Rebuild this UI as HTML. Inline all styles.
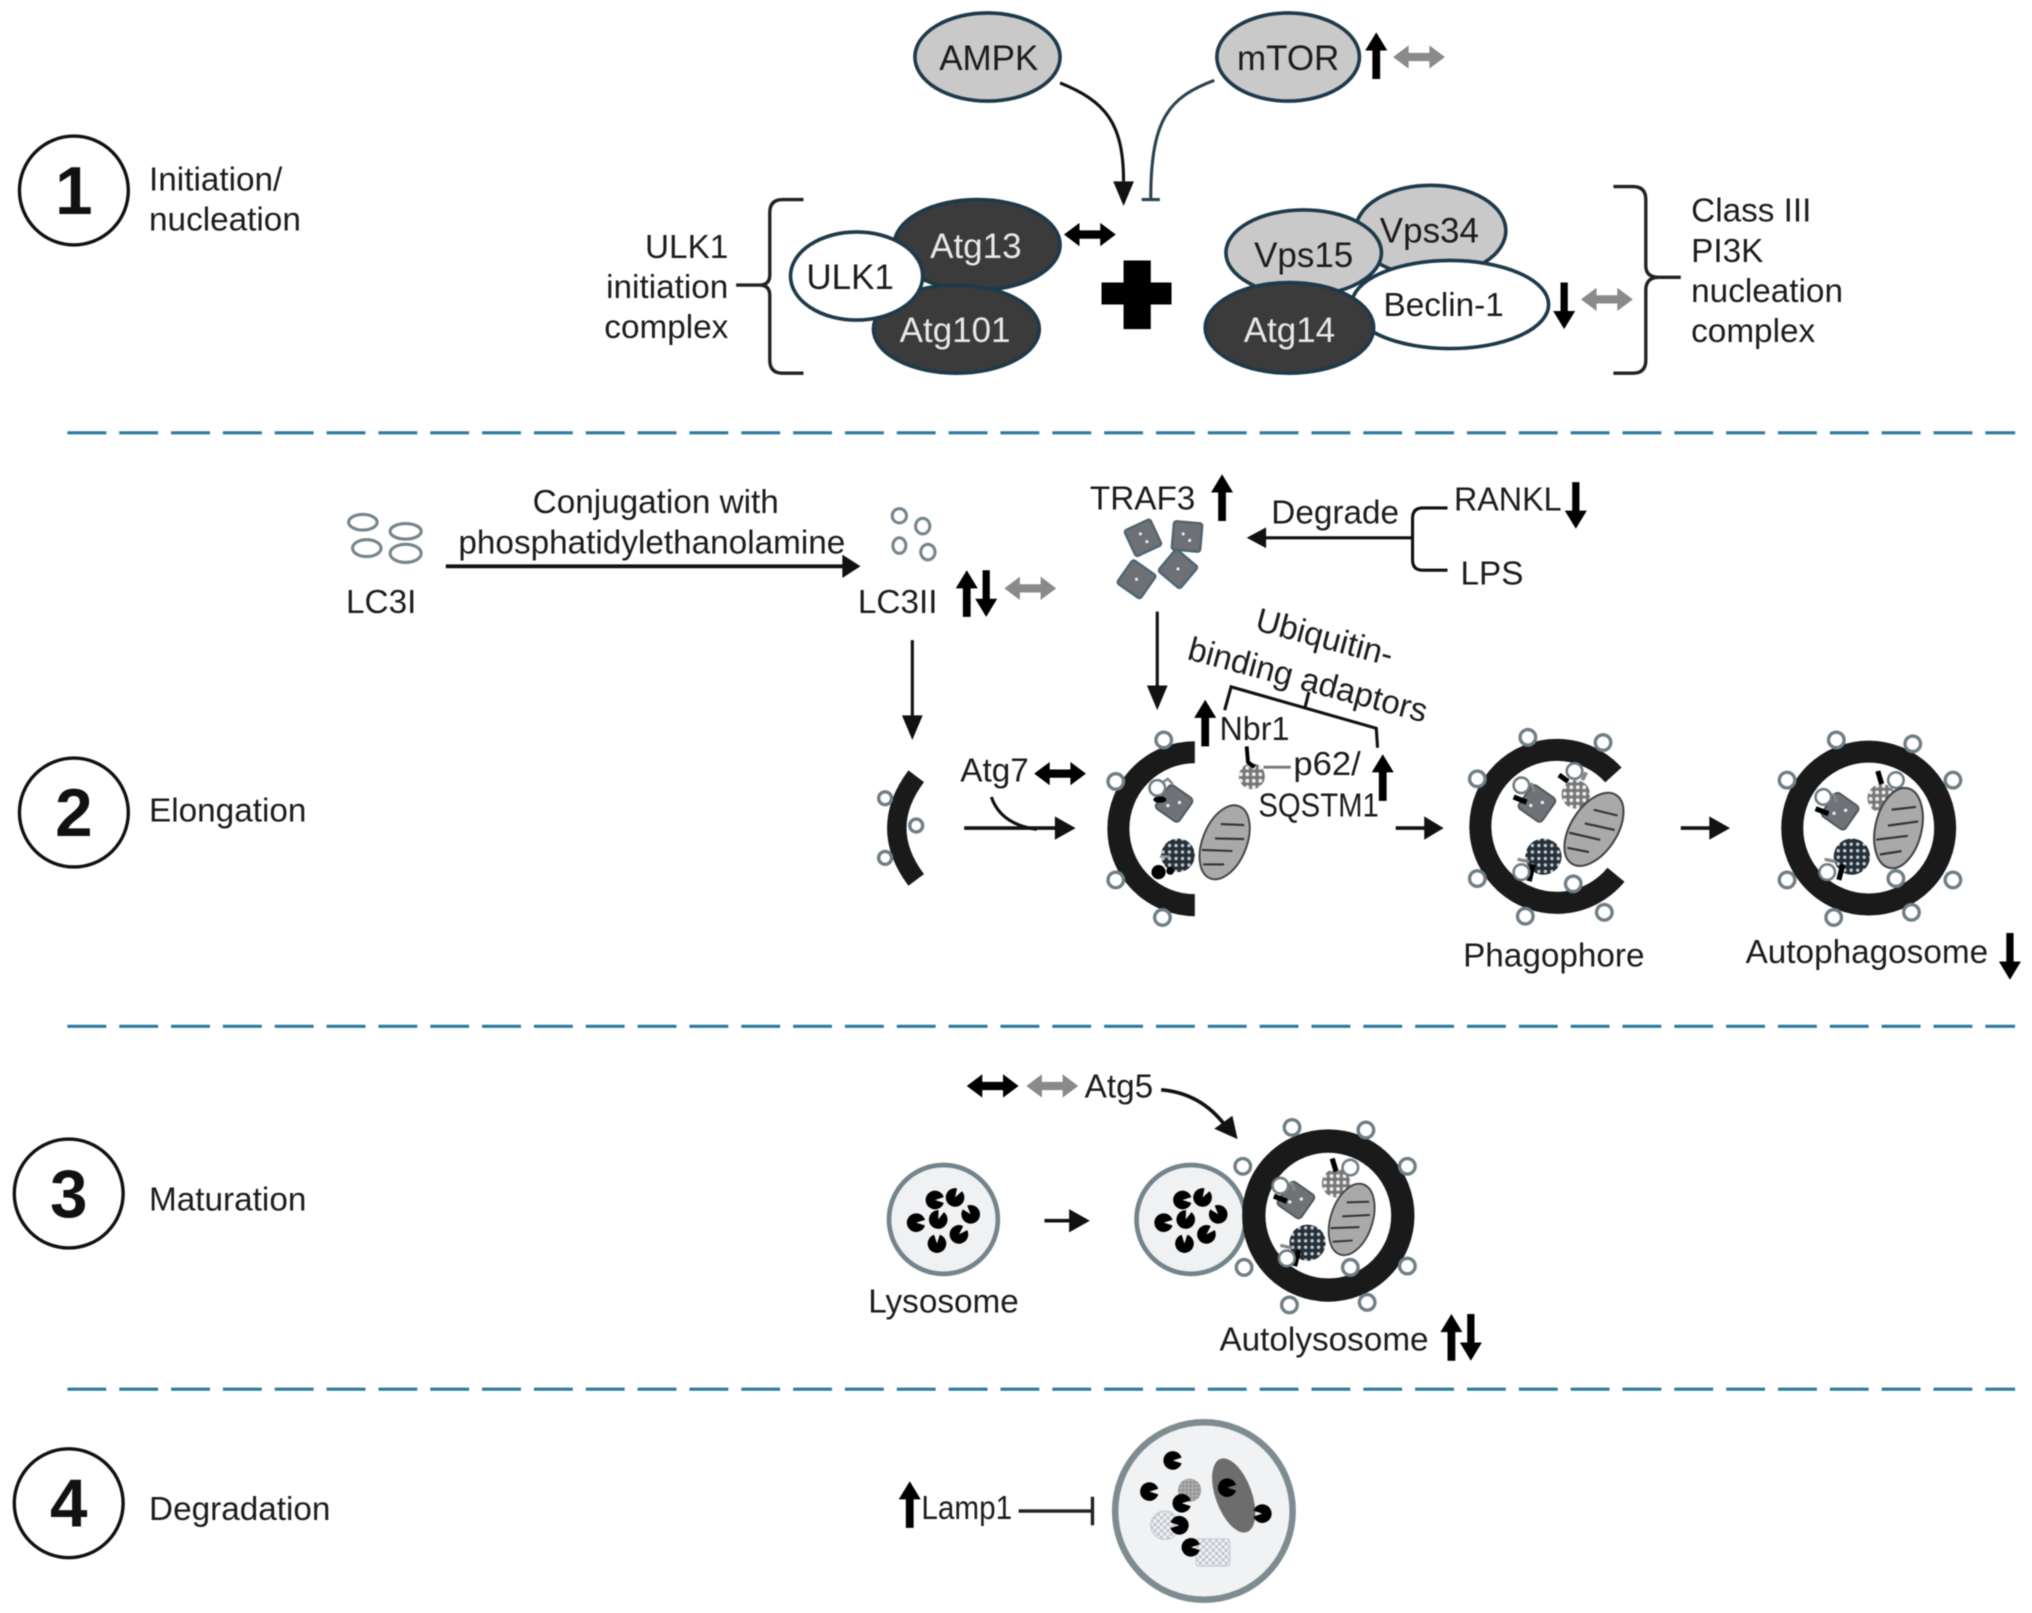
<!DOCTYPE html>
<html><head><meta charset="utf-8"><style>
html,body{margin:0;padding:0;background:#fff}
svg{display:block;filter:blur(0.6px)}
text{font-family:"Liberation Sans",sans-serif;font-size:25.7px;fill:#1c1c1c}
.c{text-anchor:middle}
.n{font-size:27px;text-anchor:middle}
.w{fill:#e8e8e8}
.num{font-size:52px;font-weight:bold;text-anchor:middle;fill:#111}
.l{fill:none;stroke:#111;stroke-width:2.4}
.s{fill:#fff;stroke:#6f7f86;stroke-width:2.6}
</style></head><body>
<svg xmlns="http://www.w3.org/2000/svg" width="2032" height="1613" viewBox="0 0 1568 1244.7">
<defs>
<path id="up" d="M-3,18V-4H-8.500L0,-18L8.500,-4H3V18Z"/>
<path id="dn" d="M-2.800,-18V4H-8.500L0,18L8.500,4H2.800V-18Z"/>
<path id="dbl" d="M-20,0L-8,-9V-3.200H8V-9L20,0L8,9V3.200H-8V9Z"/>
<path id="pac" d="M0,0L6.800,-2.200A7.200,7.200 0 1 0 6.800,2.200Z"/>
<pattern id="dd" width="5" height="5" patternUnits="userSpaceOnUse"><rect width="5" height="5" fill="#24303a"/><circle cx="2.5" cy="2.5" r="1.3" fill="#c8ccd0"/></pattern>
<pattern id="dl" width="5" height="5" patternUnits="userSpaceOnUse"><rect width="5" height="5" fill="#777"/><circle cx="2.5" cy="2.5" r="1.5" fill="#eee"/></pattern>
<pattern id="ch" width="5" height="5" patternUnits="userSpaceOnUse"><rect width="5" height="5" fill="#f2f4f6"/><rect width="2.5" height="2.5" fill="#c0c6cc"/><rect x="2.5" y="2.5" width="2.5" height="2.5" fill="#c0c6cc"/></pattern>
<pattern id="gh" width="3" height="3" patternUnits="userSpaceOnUse"><rect width="3" height="3" fill="#aaa"/><rect width="1.5" height="1.5" fill="#888"/></pattern>
<g id="sq"><rect x="-11" y="-11" width="22" height="22" rx="3" fill="#6f7377" stroke="#50585e" stroke-width="1.5"/><circle cx="3" cy="-3" r="1.3" fill="#eee"/><circle cx="-3" cy="4" r="1.3" fill="#eee"/></g>
<g id="mito"><ellipse rx="17" ry="30" fill="#a9a9a9" stroke="#444" stroke-width="1.5"/><path d="M-8,-12L9,-18M-8,0L13,-8M-14,12L8,4M-9,22L6,16" stroke="#333" stroke-width="1.6" fill="none"/></g>
<g id="lyso"><circle r="42" fill="#f0f1f3" stroke="#74848c" stroke-width="3.6"/>
<use href="#pac" x="-6.5" y="-15"/><use href="#pac" transform="translate(9,-17) rotate(-60)"/><use href="#pac" transform="translate(21,-4) rotate(-130)"/><use href="#pac" x="-21" y="2.5"/><use href="#pac" transform="translate(-4,0) rotate(-70)"/><use href="#pac" transform="translate(12,11.5) rotate(-45)"/><use href="#pac" transform="translate(-5,18.6) rotate(-90)"/></g>
</defs>
<rect width="1568" height="1244.7" fill="#fff"/>

<!-- dividers -->
<g stroke="#2d7ba0" stroke-width="2.4" stroke-dasharray="30 10" fill="none">
<path d="M52,334H1555M52,792H1555M52,1072H1555"/>
</g>

<!-- stage badges -->
<g fill="#fff" stroke="#111" stroke-width="2.6">
<circle cx="57" cy="147" r="42"/><circle cx="57" cy="627" r="42"/><circle cx="53" cy="921" r="42"/><circle cx="53" cy="1160" r="42"/>
</g>
<text class="num" x="57" y="165">1</text><text class="num" x="57" y="645">2</text><text class="num" x="53" y="939">3</text><text class="num" x="53" y="1178">4</text>
<text x="115" y="147">Initiation/</text><text x="115" y="178">nucleation</text>
<text x="115" y="634">Elongation</text><text x="115" y="934">Maturation</text><text x="115" y="1173">Degradation</text>

<!-- top -->
<g stroke="#1e3a4a" stroke-width="2.8">
<ellipse cx="762" cy="44" rx="56" ry="34" fill="#c9c9c9"/>
<ellipse cx="994" cy="44" rx="55" ry="34" fill="#c9c9c9"/>
<ellipse cx="754" cy="189" rx="64" ry="35" fill="#3b3b3b"/>
<ellipse cx="738" cy="254" rx="64" ry="34" fill="#3b3b3b"/>
<ellipse cx="661" cy="213" rx="51" ry="34" fill="#fff"/>
<ellipse cx="1104" cy="178" rx="58" ry="35" fill="#c9c9c9"/>
<ellipse cx="1006" cy="195" rx="60" ry="33" fill="#c9c9c9"/>
<ellipse cx="1119" cy="235" rx="76" ry="34" fill="#fff"/>
<ellipse cx="995" cy="253" rx="65" ry="35" fill="#3b3b3b"/>
</g>
<text class="n" x="763" y="54">AMPK</text><text class="n" x="994" y="54">mTOR</text>
<text class="n w" x="753" y="199">Atg13</text><text class="n w" x="737" y="264">Atg101</text>
<text class="n" x="656" y="223">ULK1</text><text class="n" x="1103" y="187">Vps34</text>
<text class="n" x="1006" y="206">Vps15</text><text class="c" x="1114" y="244">Beclin-1</text>
<text class="n w" x="995" y="264">Atg14</text>

<path class="l" d="M818,64C853,78 867,95 867,140"/><path d="M859,140H875L867,159Z" fill="#111"/>
<path d="M937,62C903,75 888,90 888,153M881,154H895" fill="none" stroke="#2b4350" stroke-width="2.4"/>
<use href="#up" transform="translate(1062,43)" fill="#000"/>
<use href="#dbl" transform="translate(1095,44)" fill="#8a8a8a"/>
<use href="#dbl" transform="translate(841,181)" fill="#000"/>
<use href="#dn" transform="translate(1207,236)" fill="#000"/>
<use href="#dbl" transform="translate(1240,231)" fill="#8a8a8a"/>
<path d="M867,201H888V218H904V235H888V254H867V235H850V218H867Z" fill="#000"/>

<path d="M620,154H604Q594,154 594,164V212Q594,220 586,220H568M586,220Q594,220 594,228V278Q594,288 604,288H620" fill="none" stroke="#222" stroke-width="2.6"/>
<path d="M1245,144H1260Q1270,144 1270,154V205Q1270,214 1280,214H1297M1280,214Q1270,214 1270,224V278Q1270,288 1260,288H1245" fill="none" stroke="#222" stroke-width="2.6"/>
<g text-anchor="end"><text x="562" y="199">ULK1</text><text x="562" y="230">initiation</text><text x="562" y="261">complex</text></g>
<text x="1305" y="171">Class III</text><text x="1305" y="202">PI3K</text><text x="1305" y="233">nucleation</text><text x="1305" y="264">complex</text>

<!-- LC3 -->
<g fill="none" stroke="#75868c" stroke-width="2.4">
<ellipse cx="280" cy="403" rx="11" ry="6"/><ellipse cx="313" cy="410" rx="12" ry="6"/><ellipse cx="283" cy="423" rx="11" ry="6.5"/><ellipse cx="313" cy="427" rx="12" ry="7"/>
<ellipse cx="694" cy="398" rx="5.5" ry="5.5"/><ellipse cx="712" cy="406" rx="5.5" ry="6"/><ellipse cx="694" cy="421" rx="5" ry="6"/><ellipse cx="716" cy="426" rx="5.5" ry="6"/>
</g>
<text x="267" y="473">LC3I</text><text class="c" x="506" y="396">Conjugation with</text><text class="c" x="503" y="427">phosphatidylethanolamine</text>
<path d="M344,437H652" stroke="#111" stroke-width="3"/><path d="M650,428V446L664,437Z" fill="#111"/>
<text x="662" y="473">LC3II</text>
<use href="#up" transform="translate(746,458)" fill="#000"/><use href="#dn" transform="translate(761,458)" fill="#000"/>
<use href="#dbl" transform="translate(795,454)" fill="#8a8a8a"/>

<!-- TRAF3 -->
<text x="841" y="393">TRAF3</text><use href="#up" transform="translate(943,384)" fill="#000"/>
<g stroke="#4e6472" stroke-width="1.8" fill="#6d7175">
<rect x="-11" y="-11" width="22" height="22" rx="2" transform="translate(882,415) rotate(-25)"/>
<rect x="-11" y="-11" width="22" height="22" rx="2" transform="translate(916,414) rotate(5)"/>
<rect x="-11" y="-11" width="22" height="22" rx="2" transform="translate(877,447) rotate(35)"/>
<rect x="-11" y="-11" width="22" height="22" rx="2" transform="translate(909,439) rotate(40)"/>
</g>
<g fill="#eee"><circle cx="880" cy="412" r="1.2"/><circle cx="885" cy="418" r="1.2"/><circle cx="913" cy="412" r="1.2"/><circle cx="918" cy="417" r="1.2"/><circle cx="877" cy="447" r="1.2"/><circle cx="909" cy="439" r="1.2"/></g>
<text x="981" y="404">Degrade</text><text x="1122" y="394" textLength="83" lengthAdjust="spacingAndGlyphs">RANKL</text><text x="1127" y="451">LPS</text>
<use href="#dn" transform="translate(1216,390)" fill="#000"/>
<path class="l" d="M1117,392H1098Q1090,392 1090,400V432Q1090,440 1098,440H1117M1090,415H975"/><path d="M977,407V423L962,415Z" fill="#111"/>
<path class="l" d="M893,472V530"/><path d="M885,529H901L893,548Z" fill="#111"/>
<path class="l" d="M704,494V553"/><path d="M696,552H712L704,571Z" fill="#111"/>

<!-- ubiquitin -->
<text class="c" transform="translate(1020,500) rotate(15)">Ubiquitin-</text>
<text class="c" transform="translate(1007,533) rotate(15)">binding adaptors</text>
<path class="l" d="M945,548L950,530L1062,562L1063,577M1007,546L1010,534"/>
<use href="#up" transform="translate(930,558)" fill="#000"/>
<text x="941" y="571" textLength="54" lengthAdjust="spacingAndGlyphs">Nbr1</text><text x="998" y="598" textLength="52" lengthAdjust="spacingAndGlyphs">p62/</text><text x="971" y="630" textLength="93" lengthAdjust="spacingAndGlyphs">SQSTM1</text>
<use href="#up" transform="translate(1067,600)" fill="#000"/>
<circle cx="966" cy="599" r="10" fill="url(#dl)"/>
<path d="M962,576L963,588L968,592" stroke="#000" stroke-width="3" fill="none"/>
<path d="M975,592H996" stroke="#777" stroke-width="2.2"/>

<!-- crescent -->
<path d="M707,599Q677,639 707,679" fill="none" stroke="#1a1a1a" stroke-width="15"/>
<circle class="s" cx="683" cy="616" r="5"/><circle class="s" cx="707" cy="637" r="5"/><circle class="s" cx="683" cy="662" r="5"/>
<text x="741" y="603">Atg7</text><use href="#dbl" transform="translate(818,597)" fill="#000"/>
<path class="l" d="M765,615Q772,636 800,640"/><path d="M744,639H815" stroke="#111" stroke-width="2.8"/><path d="M814,630V648L830,639Z" fill="#111"/>

<!-- C shape 2 -->
<path d="M922,580.500A59,59 0 0 0 922,698.500" fill="none" stroke="#1a1a1a" stroke-width="17"/>
<circle class="s" cx="861" cy="603" r="6"/><circle class="s" cx="898" cy="571" r="6"/><circle class="s" cx="861" cy="679" r="6"/><circle class="s" cx="897" cy="708" r="6"/>
<use href="#sq" transform="translate(906,620) rotate(35)"/>
<path d="M893,607l8,-6l4,4" stroke="#888" stroke-width="2" fill="none"/>
<circle cx="893" cy="608" r="6" fill="#fff" stroke="#6f7f86" stroke-width="2"/><ellipse cx="895" cy="617" rx="5" ry="2.5" fill="#000"/>
<circle cx="909" cy="660" r="13" fill="url(#dd)"/><circle cx="894" cy="673" r="5.5" fill="#000"/><circle cx="903" cy="672" r="3" fill="#000"/>
<path d="M895,661H903" stroke="#999" stroke-width="2"/>
<use href="#mito" transform="translate(945,650) rotate(22)"/>
<path d="M1077,639H1100" stroke="#111" stroke-width="2.8"/><path d="M1099,630V648L1114,639Z" fill="#111"/>

<!-- Phagophore -->
<path d="M1245,598A59,59 0 1 0 1247,675" fill="none" stroke="#1a1a1a" stroke-width="17"/>
<circle class="s" cx="1179" cy="569" r="6"/><circle class="s" cx="1237" cy="573" r="6"/><circle class="s" cx="1140" cy="601" r="6"/><circle class="s" cx="1140" cy="678" r="6"/><circle class="s" cx="1177" cy="707" r="6"/><circle class="s" cx="1238" cy="704" r="6"/><circle class="s" cx="1214" cy="682" r="6"/>
<use href="#sq" transform="translate(1186,620) rotate(35)"/>
<path d="M1174,607l8,-2l2,6" stroke="#888" stroke-width="2" fill="none"/>
<circle cx="1174" cy="606" r="6" fill="#fff" stroke="#6f7f86" stroke-width="2"/><path d="M1168,615L1178,619" stroke="#000" stroke-width="4"/>
<circle cx="1216" cy="613" r="11" fill="url(#dl)"/>
<path d="M1210,603L1203,598" stroke="#000" stroke-width="4"/><path d="M1221,602l3,-6" stroke="#888" stroke-width="3"/>
<circle cx="1215" cy="595" r="6" fill="#fff" stroke="#6f7f86" stroke-width="2"/>
<circle cx="1191" cy="661" r="14" fill="url(#dd)"/>
<path d="M1183,667L1180,680" stroke="#000" stroke-width="4"/><path d="M1171,663L1180,665" stroke="#888" stroke-width="2.5"/>
<circle cx="1174" cy="673" r="6" fill="#fff" stroke="#6f7f86" stroke-width="2"/>
<use href="#mito" transform="translate(1230,640) rotate(33) scale(1.05)"/>
<text x="1129" y="746">Phagophore</text>
<path d="M1297,639H1320" stroke="#111" stroke-width="2.8"/><path d="M1319,630V648L1335,639Z" fill="#111"/>

<!-- Autophagosome -->
<g transform="translate(-4,-1)">
<circle cx="1446" cy="640" r="59" fill="#fff" stroke="#1a1a1a" stroke-width="17"/>
<circle class="s" cx="1421" cy="572" r="6"/><circle class="s" cx="1480" cy="575" r="6"/><circle class="s" cx="1383" cy="603" r="6"/><circle class="s" cx="1511" cy="603" r="6"/><circle class="s" cx="1383" cy="680" r="6"/><circle class="s" cx="1511" cy="680" r="6"/><circle class="s" cx="1419" cy="709" r="6"/><circle class="s" cx="1479" cy="705" r="6"/>
<circle class="s" cx="1467" cy="679" r="6"/>
<use href="#sq" transform="translate(1424,627) rotate(35)"/>
<path d="M1411,616l8,-2l2,6" stroke="#888" stroke-width="2" fill="none"/>
<circle cx="1411" cy="616" r="6" fill="#fff" stroke="#6f7f86" stroke-width="2"/><path d="M1405,625L1415,629" stroke="#000" stroke-width="4"/>
<circle cx="1456" cy="617" r="11" fill="url(#dl)"/>
<path d="M1456,606L1453,596" stroke="#000" stroke-width="4"/><path d="M1466,612l6,-2" stroke="#888" stroke-width="3"/>
<circle cx="1467" cy="603" r="6" fill="#fff" stroke="#6f7f86" stroke-width="2"/>
<circle cx="1433" cy="662" r="14" fill="url(#dd)"/>
<path d="M1426,668L1423,680" stroke="#000" stroke-width="4"/><path d="M1412,664L1421,666" stroke="#888" stroke-width="2.5"/>
<circle cx="1414" cy="674" r="6" fill="#fff" stroke="#6f7f86" stroke-width="2"/>
<use href="#mito" transform="translate(1469,640) rotate(13) scale(1.05)"/>
</g>
<text x="1347" y="743">Autophagosome</text>
<use href="#dn" transform="translate(1551,738)" fill="#000"/>

<!-- Maturation -->
<use href="#dbl" transform="translate(766,838)" fill="#000"/><use href="#dbl" transform="translate(812,838)" fill="#8a8a8a"/>
<text x="837" y="847">Atg5</text>
<path d="M896,841C920,843 935,855 945,868" fill="none" stroke="#111" stroke-width="2.8"/><path d="M937,871L951,861L955,879Z" fill="#111"/>
<use href="#lyso" transform="translate(728,941)"/>
<text x="670" y="1013">Lysosome</text>
<path d="M806,942H826" stroke="#111" stroke-width="2.8"/><path d="M825,933V951L841,942Z" fill="#111"/>
<use href="#lyso" transform="translate(919,941)"/>
<circle cx="1025" cy="938" r="57.500" fill="#fff" stroke="#1a1a1a" stroke-width="18"/>
<circle class="s" cx="997" cy="870" r="6"/><circle class="s" cx="1054" cy="872" r="6"/><circle class="s" cx="959" cy="900" r="6"/><circle class="s" cx="1086" cy="900" r="6"/><circle class="s" cx="960" cy="978" r="6"/><circle class="s" cx="1086" cy="977" r="6"/><circle class="s" cx="995" cy="1007" r="6"/><circle class="s" cx="1055" cy="1005" r="6"/><circle class="s" cx="1042" cy="978" r="6"/>
<use href="#sq" transform="translate(1000,926) rotate(35)"/>
<path d="M989,915l8,-2l2,6" stroke="#888" stroke-width="2" fill="none"/>
<circle cx="988" cy="915" r="6" fill="#fff" stroke="#6f7f86" stroke-width="2"/><path d="M983,923L993,927" stroke="#000" stroke-width="4"/>
<circle cx="1031" cy="913" r="11" fill="url(#dl)"/>
<path d="M1031,904L1028,894" stroke="#000" stroke-width="4"/>
<circle cx="1042" cy="901" r="6" fill="#fff" stroke="#6f7f86" stroke-width="2"/>
<circle cx="1009" cy="959" r="14" fill="url(#dd)"/>
<path d="M1002,965L999,977" stroke="#000" stroke-width="4"/><path d="M988,961L997,963" stroke="#888" stroke-width="2.5"/>
<circle cx="993" cy="971" r="6" fill="#fff" stroke="#6f7f86" stroke-width="2"/>
<use href="#mito" transform="translate(1043,941) rotate(18) scale(.95)"/>
<text x="941" y="1042">Autolysosome</text>
<use href="#up" transform="translate(1120,1032)" fill="#000"/><use href="#dn" transform="translate(1135,1032)" fill="#000"/>

<!-- Degradation -->
<use href="#up" transform="translate(702,1161)" fill="#000"/>
<text x="711" y="1172" textLength="70" lengthAdjust="spacingAndGlyphs">Lamp1</text>
<path d="M786,1166H842" stroke="#222" stroke-width="2.6"/><path d="M843,1155V1177" stroke="#222" stroke-width="2.6"/>
<circle cx="929" cy="1166" r="68.500" fill="#f1f2f4" stroke="#7e8c92" stroke-width="5"/>
<ellipse cx="952" cy="1154" rx="14" ry="30" transform="rotate(-20 952 1154)" fill="#6d6d6d"/>
<circle cx="918" cy="1150" r="9" fill="url(#gh)"/>
<circle cx="899" cy="1177" r="11" fill="url(#ch)" stroke="#c8d0d8"/>
<rect x="923" y="1187.500" width="26" height="21" rx="2" fill="url(#ch)" stroke="#c8d0d8"/>
<use href="#pac" transform="translate(905,1127)"/><use href="#pac" transform="translate(887,1151)"/><use href="#pac" transform="translate(912,1160)"/><use href="#pac" transform="translate(910,1177) rotate(180)"/><use href="#pac" transform="translate(919,1194)"/><use href="#pac" transform="translate(947,1148)"/><use href="#pac" transform="translate(974,1168) rotate(180)"/>
</svg>
</body></html>
